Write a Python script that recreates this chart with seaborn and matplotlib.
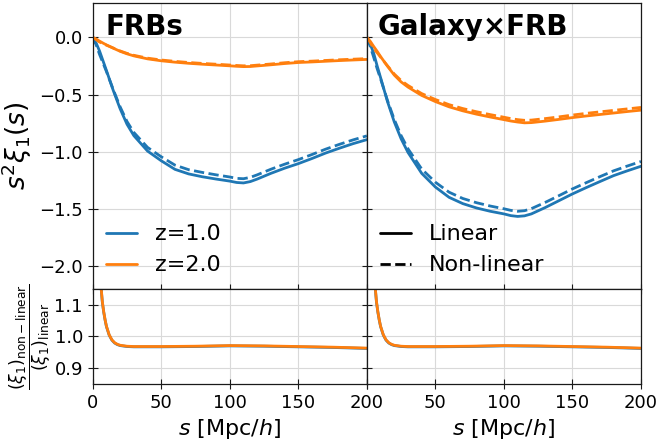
import matplotlib
matplotlib.use("Agg")
import matplotlib.pyplot as plt
import seaborn as sns
from matplotlib.lines import Line2D

# separation grid for the top panels [Mpc/h]
s = [0, 2.5, 5, 7.5, 10, 15, 20, 25, 30, 40, 50, 60, 70, 80, 90, 100,
     105, 110, 115, 120, 130, 140, 150, 160, 170, 180, 190, 200]

# FRBs, s^2 xi_1(s)
frb_z1_lin = [0, -0.05, -0.12, -0.205, -0.29, -0.465, -0.625, -0.76, -0.86, -0.995,
              -1.08, -1.155, -1.195, -1.22, -1.24, -1.258, -1.27, -1.274, -1.262, -1.24,
              -1.19, -1.145, -1.105, -1.06, -1.012, -0.97, -0.93, -0.895]
frb_z1_nl = [0, -0.065, -0.15, -0.224, -0.299, -0.458, -0.608, -0.736, -0.832, -0.963,
             -1.045, -1.118, -1.158, -1.182, -1.203, -1.222, -1.234, -1.237, -1.225, -1.203,
             -1.154, -1.11, -1.07, -1.025, -0.978, -0.936, -0.897, -0.862]
frb_z2_lin = [0, -0.015, -0.033, -0.05, -0.066, -0.095, -0.122, -0.144, -0.162, -0.188,
              -0.205, -0.217, -0.227, -0.235, -0.242, -0.249, -0.253, -0.256, -0.255, -0.25,
              -0.24, -0.229, -0.22, -0.215, -0.209, -0.203, -0.198, -0.193]
frb_z2_nl = [0, -0.02, -0.041, -0.055, -0.068, -0.093, -0.119, -0.14, -0.157, -0.182,
             -0.198, -0.21, -0.22, -0.228, -0.235, -0.242, -0.246, -0.249, -0.248, -0.243,
             -0.233, -0.222, -0.213, -0.208, -0.202, -0.196, -0.191, -0.186]

# Galaxy x FRB, s^2 xi_1(s)
gxf_z1_lin = [0, -0.06, -0.14, -0.25, -0.352, -0.56, -0.74, -0.888, -1.007, -1.19,
              -1.31, -1.40, -1.455, -1.493, -1.522, -1.545, -1.56, -1.567, -1.562, -1.545,
              -1.49, -1.43, -1.37, -1.315, -1.262, -1.21, -1.168, -1.128]
gxf_z1_nl = [0, -0.08, -0.175, -0.274, -0.363, -0.551, -0.719, -0.86, -0.975, -1.152,
             -1.268, -1.355, -1.41, -1.447, -1.476, -1.5, -1.514, -1.522, -1.517, -1.499,
             -1.445, -1.386, -1.326, -1.272, -1.219, -1.168, -1.126, -1.086]
gxf_z2_lin = [0, -0.035, -0.08, -0.122, -0.168, -0.252, -0.33, -0.39, -0.435, -0.508,
              -0.562, -0.608, -0.643, -0.672, -0.697, -0.72, -0.732, -0.741, -0.748, -0.746,
              -0.733, -0.718, -0.702, -0.688, -0.675, -0.662, -0.649, -0.637]
gxf_z2_nl = [0, -0.045, -0.1, -0.134, -0.173, -0.248, -0.321, -0.378, -0.421, -0.492,
             -0.544, -0.589, -0.623, -0.651, -0.676, -0.699, -0.711, -0.72, -0.726, -0.724,
             -0.711, -0.696, -0.68, -0.665, -0.652, -0.639, -0.626, -0.613]

# ratio (xi_1)_nl / (xi_1)_lin
s_ratio = [5, 6, 7, 8, 9, 10, 12, 14, 16, 18, 20, 25, 30, 40, 50, 75, 100, 125, 150, 175, 200]
ratio_z1 = [1.245, 1.158, 1.108, 1.077, 1.052, 1.031, 1.004, 0.988, 0.979, 0.974, 0.971,
            0.968, 0.967, 0.967, 0.967, 0.968, 0.970, 0.969, 0.967, 0.965, 0.962]
ratio_z2 = [1.25, 1.16, 1.11, 1.078, 1.053, 1.032, 1.005, 0.989, 0.980, 0.975, 0.972,
            0.969, 0.968, 0.968, 0.968, 0.969, 0.971, 0.970, 0.968, 0.966, 0.963]

x_ticks = [0, 50, 100, 150, 200]

blue, orange = "#1f77b4", "#ff7f0e"

sns.set_style("ticks")
plt.rcParams["font.family"] = ["DejaVu Sans"]
plt.rcParams["mathtext.fontset"] = "dejavusans"
plt.rcParams.update({"text.color": "black", "axes.labelcolor": "black",
                     "xtick.color": "black", "ytick.color": "black"})

fig = plt.figure(figsize=(6.59, 4.41), dpi=100)
gs = fig.add_gridspec(2, 2, height_ratios=[3, 1], hspace=0, wspace=0,
                      left=0.1407, right=0.9727, top=0.993, bottom=0.1293)
ax_tl = fig.add_subplot(gs[0, 0])
ax_tr = fig.add_subplot(gs[0, 1], sharey=ax_tl)
ax_bl = fig.add_subplot(gs[1, 0])
ax_br = fig.add_subplot(gs[1, 1], sharey=ax_bl)

lw = 2.0
panels = [(ax_tl, frb_z1_lin, frb_z1_nl, frb_z2_lin, frb_z2_nl),
          (ax_tr, gxf_z1_lin, gxf_z1_nl, gxf_z2_lin, gxf_z2_nl)]
for ax, l1, n1, l2, n2 in panels:
    sns.lineplot(x=s, y=l1, ax=ax, color=blue, lw=lw, sort=False)
    sns.lineplot(x=s, y=n1, ax=ax, color=blue, lw=lw, linestyle="--", sort=False)
    sns.lineplot(x=s, y=l2, ax=ax, color=orange, lw=lw, sort=False)
    sns.lineplot(x=s, y=n2, ax=ax, color=orange, lw=lw, linestyle="--", sort=False)

for ax in (ax_bl, ax_br):
    sns.lineplot(x=s_ratio, y=ratio_z1, ax=ax, color=blue, lw=lw, sort=False)
    sns.lineplot(x=s_ratio, y=ratio_z2, ax=ax, color=orange, lw=lw, sort=False)

for ax in (ax_tl, ax_tr, ax_bl, ax_br):
    ax.set_xlim(0, 200)
    ax.set_xticks(x_ticks)
    ax.grid(True, color="0.85", lw=0.8)
    ax.set_axisbelow(True)
    ax.tick_params(direction="inout", length=7, labelsize=13, color="0.1")
    for sp in ax.spines.values():
        sp.set_color("0.1")
        sp.set_linewidth(0.9)

ax_tl.set_ylim(-2.2, 0.3)
ax_tl.set_yticks([-2.0, -1.5, -1.0, -0.5, 0.0])
ax_bl.set_ylim(0.85, 1.15)
ax_bl.set_yticks([0.9, 1.0, 1.1])

ax_tl.tick_params(labelbottom=False)
ax_tr.tick_params(labelbottom=False, labelleft=False)
ax_br.tick_params(labelleft=False)
# the right panel's "0" would sit on top of the left panel's "200"
ax_br.set_xticklabels([""] + [str(t) for t in x_ticks[1:]])

ax_tl.set_ylabel(r"$s^2\xi_1(s)$", fontsize=19, labelpad=4)
ax_bl.set_ylabel(r"$\dfrac{(\xi_1)_{\rm non-linear}}{(\xi_1)_{\rm linear}}$",
                 fontsize=12.5, labelpad=1)
ax_bl.set_xlabel(r"$s$ [Mpc/$h$]", fontsize=16)
ax_br.set_xlabel(r"$s$ [Mpc/$h$]", fontsize=16)

ax_tl.text(0.045, 0.965, "FRBs", transform=ax_tl.transAxes, fontsize=20,
           fontweight="bold", va="top", ha="left")
ax_tr.text(0.04, 0.965, "Galaxy\u00d7FRB", transform=ax_tr.transAxes, fontsize=20,
           fontweight="bold", va="top", ha="left")

leg_kw = dict(loc="lower left", frameon=False, fontsize=16, handlelength=1.4,
              handletextpad=0.8, borderaxespad=0.2)
z_handles = [Line2D([], [], color=blue, lw=lw), Line2D([], [], color=orange, lw=lw)]
ax_tl.legend(z_handles, ["z=1.0", "z=2.0"], **leg_kw)
ls_handles = [Line2D([], [], color="k", lw=lw), Line2D([], [], color="k", lw=lw, linestyle="--")]
ax_tr.legend(ls_handles, ["Linear", "Non-linear"], **leg_kw)

fig.savefig("out.png", dpi=100)
